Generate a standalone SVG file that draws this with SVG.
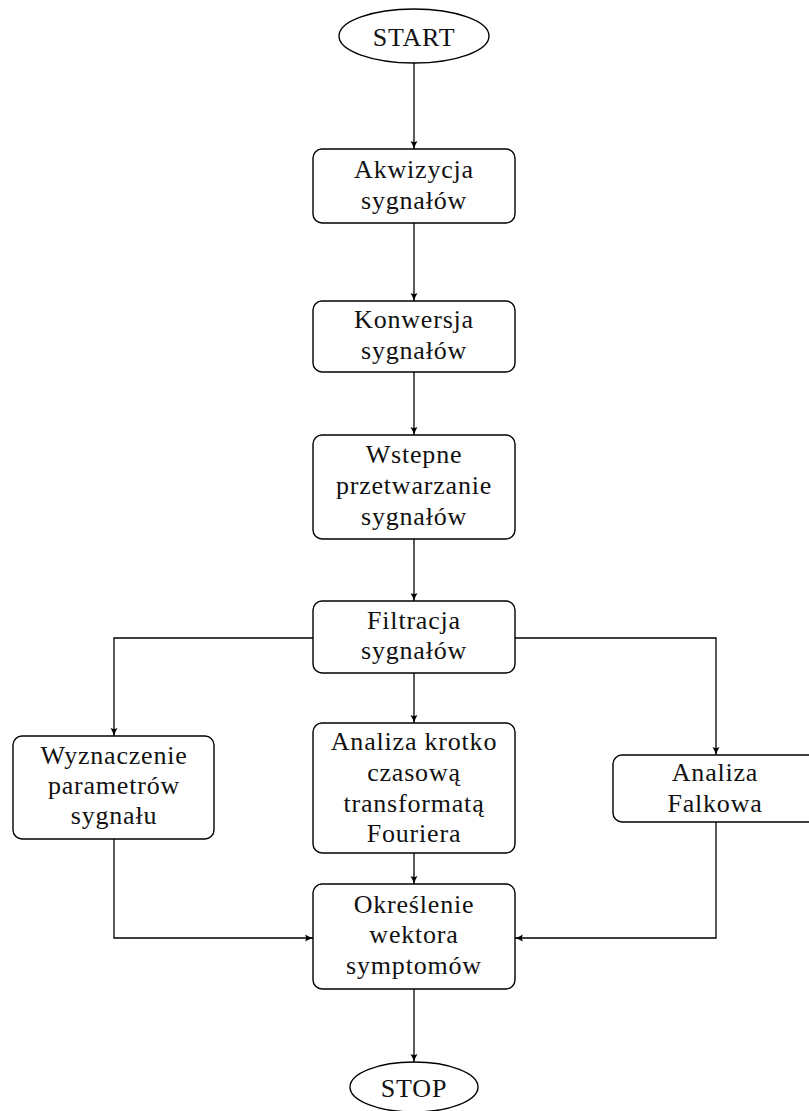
<svg xmlns="http://www.w3.org/2000/svg" width="809" height="1111" viewBox="0 0 809 1111">
<style>
.box{fill:#fff;stroke:#000;stroke-width:1.4}
.t{font-family:"Liberation Serif","Times New Roman",serif;font-size:26px;letter-spacing:0.8px;text-anchor:middle;fill:#111}
.c{fill:none;stroke:#000;stroke-width:1.3}
</style>
<defs>
<marker id="ah" markerUnits="userSpaceOnUse" markerWidth="10" markerHeight="10" refX="8" refY="4" orient="auto">
<path d="M0,0.5 Q4,3 8,4 Q4,5 0,7.5 Q2,4 0,0.5Z" fill="#000"/>
</marker>
</defs>
<rect width="809" height="1111" fill="#fff"/>
<g id="connectors">
<path class="c" d="M414,63 V149" marker-end="url(#ah)"/>
<path class="c" d="M414,223 V301" marker-end="url(#ah)"/>
<path class="c" d="M414,372 V435" marker-end="url(#ah)"/>
<path class="c" d="M414,539 V601" marker-end="url(#ah)"/>
<path class="c" d="M414,673 V723" marker-end="url(#ah)"/>
<path class="c" d="M313,638 H114 V736" marker-end="url(#ah)"/>
<path class="c" d="M515,638 H716 V755" marker-end="url(#ah)"/>
<path class="c" d="M114,839 V938 H313" marker-end="url(#ah)"/>
<path class="c" d="M716,822 V938 H515" marker-end="url(#ah)"/>
<path class="c" d="M414,853 V884" marker-end="url(#ah)"/>
<path class="c" d="M414,989 V1062" marker-end="url(#ah)"/>
</g>
<g id="start">
<ellipse class="box" cx="414" cy="36" rx="75" ry="27"/>
<text class="t" x="414" y="46">START</text>
</g>
<g id="akwizycja">
<rect class="box" x="313" y="149" width="202" height="74" rx="9"/>
<text class="t" x="414" y="178">Akwizycja</text>
<text class="t" x="414" y="209">sygnałów</text>
</g>
<g id="konwersja">
<rect class="box" x="313" y="301" width="202" height="71" rx="9"/>
<text class="t" x="414" y="328">Konwersja</text>
<text class="t" x="414" y="359">sygnałów</text>
</g>
<g id="wstepne">
<rect class="box" x="313" y="435" width="202" height="104" rx="9"/>
<text class="t" x="414" y="463">Wstepne</text>
<text class="t" x="414" y="494">przetwarzanie</text>
<text class="t" x="414" y="525">sygnałów</text>
</g>
<g id="filtracja">
<rect class="box" x="313" y="601" width="202" height="72" rx="9"/>
<text class="t" x="414" y="629">Filtracja</text>
<text class="t" x="414" y="659">sygnałów</text>
</g>
<g id="wyznaczenie">
<rect class="box" x="13" y="736" width="201" height="103" rx="9"/>
<text class="t" x="114" y="764">Wyznaczenie</text>
<text class="t" x="114" y="794">parametrów</text>
<text class="t" x="114" y="824">sygnału</text>
</g>
<g id="stft">
<rect class="box" x="313" y="723" width="202" height="130" rx="9"/>
<text class="t" x="414" y="750">Analiza krotko</text>
<text class="t" x="414" y="781">czasową</text>
<text class="t" x="414" y="812">transformatą</text>
<text class="t" x="414" y="842">Fouriera</text>
</g>
<g id="falkowa">
<rect class="box" x="613" y="755" width="204" height="67" rx="9"/>
<text class="t" x="715" y="781">Analiza</text>
<text class="t" x="715" y="812">Falkowa</text>
</g>
<g id="okreslenie">
<rect class="box" x="313" y="884" width="202" height="105" rx="9"/>
<text class="t" x="414" y="913">Określenie</text>
<text class="t" x="414" y="943">wektora</text>
<text class="t" x="414" y="974">symptomów</text>
</g>
<g id="stop">
<ellipse class="box" cx="414" cy="1087" rx="64" ry="25"/>
<text class="t" x="414" y="1097">STOP</text>
</g>
</svg>
